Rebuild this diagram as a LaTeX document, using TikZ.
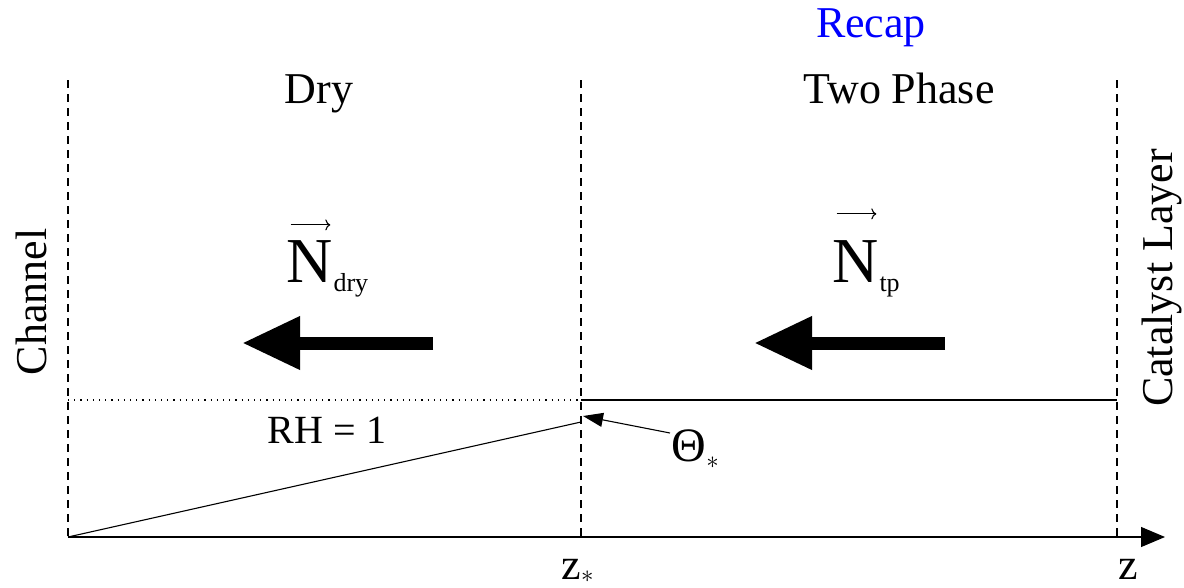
\documentclass[tikz,border=0pt]{standalone}
\usepackage{fontspec}
\setmainfont{Liberation Serif}
\usetikzlibrary{arrows.meta}
\begin{document}
\begin{tikzpicture}[x=1pt,y=-1pt,
  lbl/.style={inner sep=0pt, font=\fontsize{44}{50}\selectfont},
  bigN/.style={inner sep=0pt, font=\fontsize{64}{70}\selectfont},
  sub/.style={inner sep=0pt, font=\fontsize{26}{30}\selectfont},
  divider/.style={dash pattern=on 8pt off 6pt, line width=1.1pt},
  flux/.style={line width=13pt, -{Triangle[length=58pt,width=50pt]}},
  vecarrow/.style={line width=1.1pt, -{To[length=5pt,width=11pt]}},
  thin/.style={line width=1.1pt},
  star/.style={inner sep=0pt, font=\fontsize{30}{30}\selectfont, anchor=base west},
]
\useasboundingbox (0,0) rectangle (1184,587);
% region boundaries
\coordinate (lt) at (68,80);   \coordinate (lb) at (68,537);
\coordinate (mt) at (581,80);  \coordinate (mb) at (581,537);
\coordinate (rt) at (1117,80); \coordinate (rb) at (1117,537);
\coordinate (ax) at (1165,537);
\coordinate (ld) at (68,400);  \coordinate (md) at (581,400); \coordinate (rd) at (1117,400);
\coordinate (th) at (581,422);
\coordinate (thtip) at (583,416);
\coordinate (thstart) at (670,433);
\draw[divider] (lt) -- (lb);
\draw[divider] (mt) -- (mb);
\draw[divider] (rt) -- (rb);
% axis
\draw[thin, -{Triangle[length=24pt,width=20pt]}] (lb) -- (ax);
% RH line and saturation line
\draw[line width=1.2pt, dash pattern=on 1.2pt off 5pt] (ld) -- (md);
\draw[thin] (md) -- (rd);
\draw[thin] (lb) -- (th);
% labels
\node[lbl, text=blue] (recap) at (871,28) {Recap};
\node[lbl, anchor=base] (dry) at (319,103) {Dry};
\node[lbl, anchor=base] (twophase) at (899,103) {Two Phase};
\node[lbl, rotate=90] (channel) at (31,302) {Channel};
\node[lbl, rotate=90] (catalyst) at (1162,278) {Catalyst Layer};
\node[lbl, anchor=base, font=\fontsize{40}{44}\selectfont] (rh) at (327,443) {RH = 1};
% fluxes
\node[bigN, anchor=base] (nd) at (310,282) {N};
\node[sub, anchor=base west] (ndsub) at ([yshift=-9pt]nd.base east) {dry};
\draw[vecarrow] ([xshift=4pt,yshift=15pt]nd.north west) -- ([xshift=-3pt,yshift=15pt]nd.north east);
\node[bigN, anchor=base] (nt) at (856,282) {N};
\node[sub, anchor=base west] (ntsub) at ([yshift=-9pt]nt.base east) {tp};
\draw[vecarrow] ([xshift=4pt,yshift=26pt]nt.north west) -- ([xshift=-3pt,yshift=26pt]nt.north east);
\coordinate (f1s) at (433,343); \coordinate (f1e) at (242,343);
\coordinate (f2s) at (945,343); \coordinate (f2e) at (754,343);
\draw[flux] (f1s) -- (f1e);
\draw[flux] (f2s) -- (f2e);
% theta
\node[inner sep=0pt, font=\fontsize{48}{50}\selectfont, anchor=base west] (theta) at (671,461) {Θ};
\node[star] (thetasub) at ([xshift=0pt,yshift=-7pt]theta.base east) {$\ast$};
\draw[thin, -{Triangle[length=20pt,width=14pt]}] (thstart) -- (thtip);
% z labels
\node[inner sep=0pt, font=\fontsize{44}{50}\selectfont, anchor=base] (zs) at (571,579) {z};
\node[star] (zssub) at ([xshift=0pt,yshift=-3pt]zs.base east) {$\ast$};
\node[inner sep=0pt, font=\fontsize{44}{50}\selectfont, anchor=base] (z) at (1128,579) {z};
\end{tikzpicture}
\end{document}
